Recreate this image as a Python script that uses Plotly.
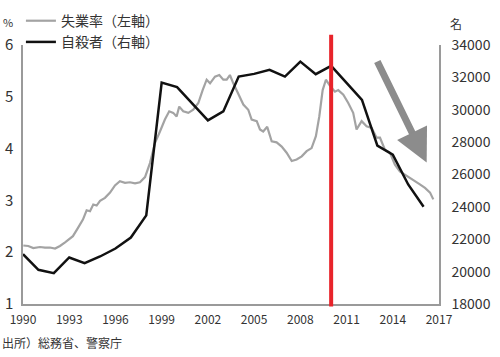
import plotly.graph_objects as go

# --- data ---
years = list(range(1990, 2017))
suicides = [21077, 20111, 19908, 20874, 20523, 20935, 21428, 22105, 23477, 31680,
            31397, 30369, 29342, 29895, 32049, 32215, 32462, 32049, 32972, 32197,
            32708, 31662, 30615, 27785, 27231, 25385, 24012]

unemp_x = [1990.02, 1990.34, 1990.67, 1991.10, 1991.43, 1991.75, 1992.08, 1992.40, 1992.73, 1993.05,
           1993.24, 1993.57, 1993.89, 1994.13, 1994.35, 1994.56, 1994.78, 1995.00, 1995.32, 1995.65,
           1995.97, 1996.29, 1996.62, 1996.94, 1997.27, 1997.59, 1997.92, 1998.24, 1998.57, 1998.89,
           1999.21, 1999.49, 1999.75, 1999.97, 2000.14, 2000.40, 2000.73, 2001.05, 2001.38, 2001.66,
           2001.92, 2002.14, 2002.46, 2002.74, 2003.00, 2003.22, 2003.43, 2003.65, 2003.97, 2004.30,
           2004.62, 2004.84, 2005.17, 2005.38, 2005.59, 2005.85, 2006.14, 2006.46, 2006.79, 2007.11,
           2007.44, 2007.76, 2008.09, 2008.41, 2008.73, 2009.01, 2009.23, 2009.45, 2009.66, 2009.88,
           2010.25, 2010.46, 2010.79, 2011.11, 2011.43, 2011.65, 2011.98, 2012.30, 2012.63, 2012.95,
           2013.17, 2013.49, 2013.82, 2014.14, 2014.46, 2014.79, 2015.11, 2015.44, 2015.76, 2016.09,
           2016.42, 2016.63]
unemp_y = [2.13, 2.12, 2.08, 2.10, 2.09, 2.09, 2.07, 2.12, 2.19, 2.26,
           2.31, 2.47, 2.63, 2.81, 2.79, 2.92, 2.90, 2.99, 3.05, 3.15,
           3.29, 3.37, 3.34, 3.35, 3.33, 3.35, 3.45, 3.72, 4.11, 4.33,
           4.56, 4.72, 4.69, 4.62, 4.81, 4.72, 4.69, 4.75, 4.88, 5.13,
           5.33, 5.26, 5.39, 5.42, 5.33, 5.33, 5.42, 5.26, 5.07, 4.85,
           4.75, 4.56, 4.53, 4.37, 4.33, 4.42, 4.14, 4.12, 4.04, 3.92,
           3.76, 3.79, 3.85, 3.95, 4.01, 4.24, 4.62, 5.13, 5.33, 5.23,
           5.10, 5.13, 5.04, 4.88, 4.69, 4.37, 4.53, 4.43, 4.40, 4.21,
           4.21, 3.98, 3.92, 3.69, 3.56, 3.50, 3.44, 3.37, 3.31, 3.24,
           3.15, 3.02]

x_ticks = list(range(1990, 2018, 3))
left_ticks = [1, 2, 3, 4, 5, 6]
right_ticks = list(range(18000, 34001, 2000))
marker_year = 2010

FONT = "Noto Sans CJK JP"
AXIS_GRAY = "#9a9a9a"

fig = go.Figure()
fig.add_trace(go.Scatter(x=unemp_x, y=unemp_y, mode="lines", name="失業率（左軸）",
                         line=dict(color="#a3a3a3", width=2.2), yaxis="y"))
fig.add_trace(go.Scatter(x=years, y=suicides, mode="lines", name="自殺者（右軸）",
                         line=dict(color="#111111", width=2.5), yaxis="y2"))

# red vertical marker
fig.add_shape(type="line", xref="x", yref="paper", x0=marker_year, x1=marker_year,
              y0=-0.01, y1=1.04, line=dict(color="#e8232a", width=4), layer="above")

# downward trend arrow
fig.add_annotation(x=2016.2, y=3.73, ax=2012.95, ay=5.71, xref="x", yref="y",
                   axref="x", ayref="y", showarrow=True, arrowhead=2, arrowsize=0.95,
                   arrowwidth=7, arrowcolor="#8c8c8c", text="")

fig.add_annotation(x=0, y=1.0, xref="paper", yref="paper", xshift=-22, yshift=23,
                   text="%", showarrow=False, font=dict(size=11, color="#333"),
                   xanchor="left", yanchor="middle")
fig.add_annotation(x=1, y=1.0, xref="paper", yref="paper", xshift=9, yshift=22,
                   text="名", showarrow=False, font=dict(size=12, color="#333"),
                   xanchor="left", yanchor="middle")
fig.add_annotation(x=0, y=0, xref="paper", yref="paper", xshift=-23, yshift=-38,
                   text="出所）総務省、警察庁", showarrow=False,
                   font=dict(size=12, color="#333"), xanchor="left", yanchor="middle")

fig.update_layout(
    width=500, height=357,
    margin=dict(l=23, r=61, t=45, b=53, autoexpand=False),
    paper_bgcolor="white", plot_bgcolor="white",
    font=dict(family=FONT, color="#333"),
    showlegend=True,
    legend=dict(x=-0.005, y=1.154, xanchor="left", yanchor="top", bgcolor="rgba(0,0,0,0)",
                font=dict(size=14, color="#333"), itemwidth=30, tracegroupgap=0),
    xaxis=dict(range=[1990, 2017], tickvals=x_ticks, ticktext=[str(v) for v in x_ticks],
               showgrid=False, zeroline=False, showline=True, linecolor=AXIS_GRAY,
               linewidth=1.5, ticks="", tickfont=dict(size=12, color="#333"),
               ticklabelstandoff=4, automargin=False),
    yaxis=dict(range=[1, 6], tickvals=left_ticks, showgrid=False, zeroline=False,
               showline=True, linecolor=AXIS_GRAY, linewidth=1.5, ticks="outside",
               ticklen=5, tickcolor="rgba(0,0,0,0)", tickfont=dict(size=15, color="#333"),
               automargin=False),
    yaxis2=dict(range=[18000, 34000], tickvals=right_ticks,
                ticktext=[str(v) for v in right_ticks], overlaying="y", side="right",
                showgrid=False, zeroline=False, showline=True, linecolor=AXIS_GRAY,
                linewidth=1.5, ticks="outside", ticklen=8, tickcolor="rgba(0,0,0,0)",
                tickfont=dict(size=14, color="#333"), automargin=False),
)

fig.write_html("out.html", config={"displayModeBar": False},
               post_script="document.body.style.margin='0';document.body.style.overflow='hidden';")
